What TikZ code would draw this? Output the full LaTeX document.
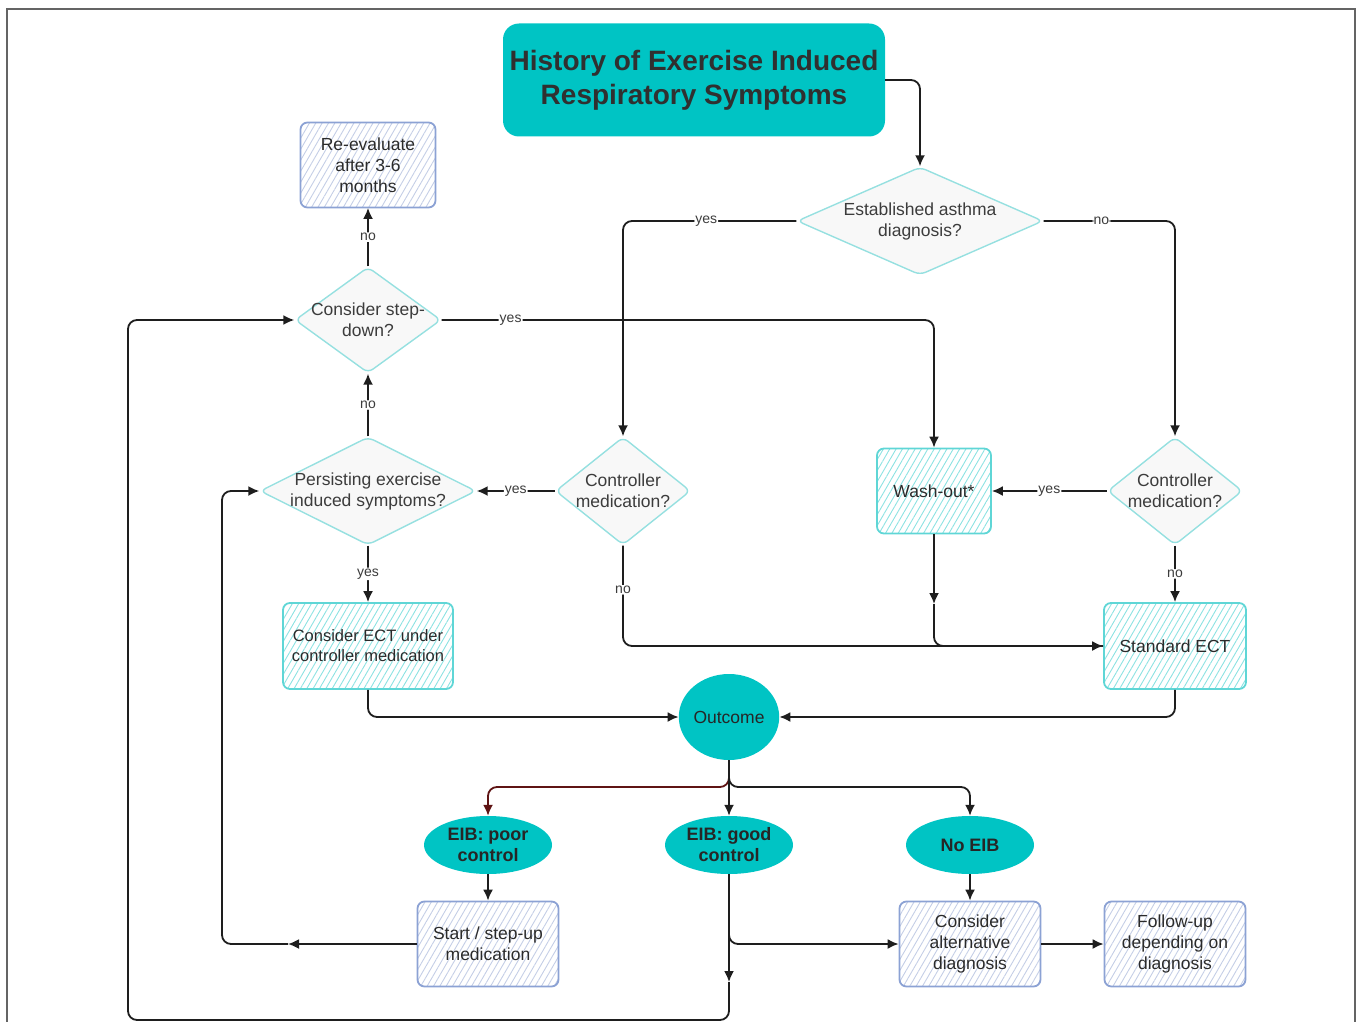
\documentclass[tikz,border=0pt]{standalone}
\usepackage{fontspec}
\setmainfont{Liberation Sans}
\usetikzlibrary{shapes.geometric,arrows.meta,patterns.meta}
\definecolor{teal1}{RGB}{0,196,196}
\definecolor{dbord}{RGB}{150,224,224}
\definecolor{dfill}{RGB}{248,248,248}
\definecolor{cbord}{RGB}{95,214,214}
\definecolor{chatch}{RGB}{140,226,226}
\definecolor{bbord}{RGB}{140,162,212}
\definecolor{bhatch}{RGB}{196,206,230}
\definecolor{txtg}{RGB}{60,60,60}
\definecolor{framec}{RGB}{100,100,100}
\definecolor{dred}{RGB}{95,20,20}
\definecolor{linec}{RGB}{30,30,30}
\tikzset{
  ntext/.style={font=\fontsize{17.5}{21}\selectfont, text=txtg, align=center},
  titlebox/.style={rectangle, rounded corners=16pt, fill=teal1, minimum width=382pt, minimum height=113pt,
     font=\fontsize{28}{34}\selectfont\bfseries, text=txtg!80!black, align=center},
  dia/.style={diamond, draw=dbord, fill=dfill, line width=1.4pt, rounded corners=6pt, inner sep=0pt},
  cbox/.style={rectangle, rounded corners=7pt, draw=cbord, line width=1.8pt,
     pattern={Lines[angle=60,distance=5.5pt,line width=0.9pt]}, pattern color=chatch,
     ntext, text=txtg!70!black},
  bbox/.style={rectangle, rounded corners=7pt, draw=bbord, line width=1.8pt,
     pattern={Lines[angle=60,distance=5.5pt,line width=0.9pt]}, pattern color=bhatch,
     ntext, text=txtg!70!black, minimum width=141pt, minimum height=85pt},
  ell/.style={ellipse, fill=teal1, inner sep=0pt, align=center,
     font=\fontsize{18}{21}\selectfont\bfseries, text=black!85},
  conn/.style={draw=linec, line width=1.8pt, rounded corners=9pt},
  arr/.style={conn, -{Latex[length=11pt,width=10pt]}},
  lbl/.style={fill=white, inner sep=1pt, font=\fontsize{14}{16}\selectfont, text=txtg}
}
\begin{document}
\begin{tikzpicture}[x=1pt,y=-1pt]
\useasboundingbox (0,0) rectangle (1358,1022);
\draw[framec, line width=1.3pt] (7,1022) -- (7,9) -- (1355,9) -- (1355,1022);

% nodes
\node[titlebox] (t) at (694,80) {History of Exercise Induced\\Respiratory Symptoms};

\node[dia, minimum width=246pt, minimum height=108pt] (est) at (920,221) {};
\node[ntext] (estt) at (est) {Established asthma\\diagnosis?};

\node[dia, minimum width=135pt, minimum height=108pt] (ctrlL) at (623,491) {};
\node[ntext] (ctrlLt) at (ctrlL) {Controller\\medication?};

\node[dia, minimum width=135pt, minimum height=108pt] (ctrlR) at (1175,491) {};
\node[ntext] (ctrlRt) at (ctrlR) {Controller\\medication?};

\node[dia, minimum width=216pt, minimum height=108pt] (pers) at (368,491) {};
\node[ntext] (perst) at (pers) {Persisting exercise\\induced symptoms?};

\node[dia, minimum width=146pt, minimum height=106pt] (step) at (368,320) {};
\node[ntext] (stept) at (step) {Consider step-\\down?};

\node[bbox, minimum width=135pt] (reev) at (368,165) {Re-evaluate\\after 3-6\\months};

\node[cbox, minimum width=114pt, minimum height=85pt] (wash) at (934,491) {Wash-out*};
\node[cbox, minimum width=142pt, minimum height=86pt] (std) at (1175,646) {Standard ECT};
\node[cbox, minimum width=170pt, minimum height=86pt, font=\fontsize{16.5}{20}\selectfont] (cect) at (368,646) {Consider ECT under\\controller medication};

\node[ell, minimum width=100pt, minimum height=86pt, font=\fontsize{17.5}{21}\selectfont] (out) at (729,717) {Outcome};
\node[ell, minimum width=128pt, minimum height=58pt] (poor) at (488,845) {EIB: poor\\control};
\node[ell, minimum width=128pt, minimum height=58pt] (good) at (729,845) {EIB: good\\control};
\node[ell, minimum width=128pt, minimum height=58pt] (noeib) at (970,845) {No EIB};

\node[bbox] (start) at (488,944) {Start / step-up\\medication};
\node[bbox] (alt) at (970,944) {Consider\\alternative\\diagnosis};
\node[bbox] (fu) at (1175,944) {Follow-up\\depending on\\diagnosis};

% helper coordinates
\coordinate (wj) at (934,604);
\coordinate (ob) at (729,787);
\coordinate (gj) at (729,982);
\coordinate (gb) at (729,1020);
\coordinate (lb) at (128,1020);
\coordinate (lt) at (128,320);
\coordinate (sj) at (288,944);
\coordinate (sb) at (222,944);
\coordinate (st) at (222,491);

% connectors
\draw[arr] (t.east) -| (est.north);
\draw[arr] (est.west) -| node[lbl,pos=0.26]{yes} (ctrlL.north);
\draw[arr] (est.east) -| node[lbl,pos=0.22]{no} (ctrlR.north);

\draw[arr] (ctrlR.west) -- node[lbl]{yes} (wash.east);
\draw[arr] (ctrlR.south) -- node[lbl]{no} (std.north);
\draw[arr] (wash.south) -- (wj);
\draw[conn] (wj) |- (std.west);

\draw[arr] (ctrlL.west) -- node[lbl]{yes} (pers.east);
\draw[arr] (ctrlL.south) |- node[lbl,pos=0.22]{no} (std.west);

\draw[arr] (pers.south) -- node[lbl]{yes} (cect.north);
\draw[arr] (pers.north) -- node[lbl]{no} (step.south);
\draw[arr] (step.north) -- node[lbl]{no} (reev.south);
\draw[arr] (step.east) -| node[lbl,pos=0.07]{yes} (wash.north);

\draw[arr] (cect.south) |- (out.west);
\draw[arr] (std.south) |- (out.east);

\draw[arr, draw=dred] (out.south) -- (ob) -| (poor.north);
\draw[arr] (out.south) -- (good.north);
\draw[arr] (out.south) -- (ob) -| (noeib.north);

\draw[arr] (poor.south) -- (start.north);
\draw[arr] (noeib.south) -- (alt.north);
\draw[arr] (alt.east) -- (fu.west);
\draw[arr] (good.south) |- (alt.west);

\draw[arr] (good.south) -- (gj);
\draw[arr] (gj) -- (gb) -- (lb) -- (lt) -- (step.west);

\draw[arr] (start.west) -- (sj);
\draw[arr] (sj) -- (sb) -- (st) -- (pers.west);
\end{tikzpicture}
\end{document}
